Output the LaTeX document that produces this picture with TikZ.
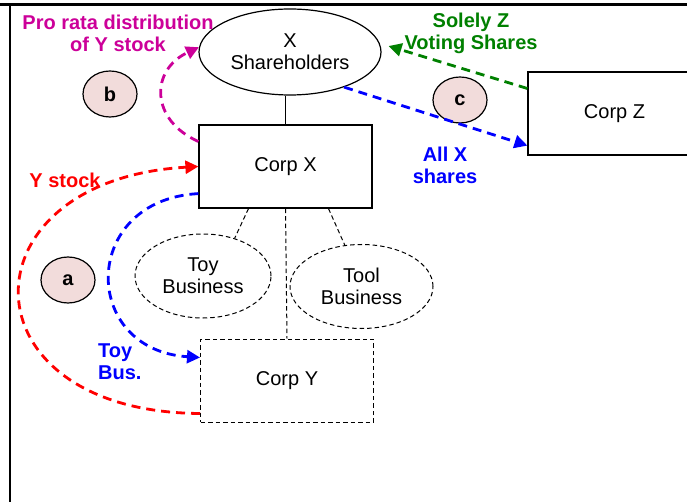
\documentclass[tikz,border=0pt]{standalone}
\usepackage{fontspec}
\setmainfont{Liberation Sans}
\usepackage{xcolor}
\usetikzlibrary{arrows.meta,shapes.geometric}

\definecolor{prorata}{RGB}{204,0,153}
\definecolor{solely}{RGB}{0,128,0}
\definecolor{markfill}{RGB}{242,220,219}

\tikzset{
  corp/.style={draw, line width=1.2pt, minimum width=173pt, minimum height=83pt, inner sep=0pt},
  thin dash/.style={dash pattern=on 4.5pt off 3pt, line width=1pt},
  biz/.style={ellipse, draw, thin dash, minimum width=136pt, minimum height=84pt, inner sep=0pt, align=center},
  letter/.style={ellipse, draw, line width=1.2pt, fill=markfill, minimum width=54pt, minimum height=46pt, inner sep=0pt, font=\fontsize{20}{22}\selectfont\bfseries},
  move/.style={line width=2.8pt, dash pattern=on 9pt off 6pt, -{Triangle[length=13pt,width=13pt]}},
  lbl/.style={font=\fontsize{20}{22}\selectfont\bfseries, align=center, inner sep=0pt}
}

\begin{document}
\begin{tikzpicture}[x=1pt, y=-1pt, every node/.style={font=\fontsize{20}{22}\selectfont}]
\clip (0,0) rectangle (687,502);
% рамка
\draw [line width=3pt] (0,5) -- (687,5);
\draw [line width=2.5pt] (10,5) -- (10,502);
% узлы
\node [ellipse, draw, line width=1.2pt, minimum width=182pt, minimum height=86pt, inner sep=0pt, align=center] (xsh) at (290,52) {X\\Shareholders};
\node [corp] (corpx) at (285.5,166.5) {Corp X};
\node [corp] (corpz) at (614.5,113.5) {Corp Z};
\node [corp, thin dash] (corpy) at (287,380.5) {Corp Y};
\node [biz] (toy) at (203,276) {Toy\\Business};
\node [biz, minimum width=143pt] (tool) at (361.5,286.5) {Tool\\Business};
\node [letter] (a) at (68,280) {a};
\node [letter] (b) at (110,94) {b};
\node [letter] (c) at (460,100) {c};
% связи
\draw [line width=1.2pt] (corpx.north) -- (corpx.north |- xsh.south);
\draw [thin dash] ([xshift=-37pt]corpx.south) -- (toy.50);
\draw [thin dash] (corpx.south) -- (corpy.north);
\draw [thin dash] ([xshift=43pt]corpx.south) -- (tool.112);
% стрелки
\draw [move, prorata] ([yshift=25pt]corpx.west) .. controls (150,120) and (150,70) .. (xsh.177);
\draw [move, red] ([yshift=9pt]corpy.south west) .. controls (-40,412) and (-40,180) .. (corpx.west);
\draw [move, blue] ([yshift=15pt]corpx.south west) .. controls (80,200) and (80,350) .. ([yshift=23pt]corpy.west);
\draw [move, blue] (xsh.-33) -- ([yshift=10pt]corpz.south west);
\draw [move, solely] ([yshift=25pt]corpz.west) -- ([shift={(7pt,6pt)}]xsh.east);
% подписи
\node [lbl, prorata] (prolbl) at (118,33) {Pro rata distribution\\of Y stock};
\node [lbl, red] (ylbl) at (65,180) {Y stock};
\node [lbl, blue, align=left, anchor=west] (toylbl) at (98,362) {Toy\\Bus.};
\node [lbl, blue] (alllbl) at (445,165) {All X\\shares};
\node [lbl, solely] (sollbl) at (471,33) {Solely Z\\Voting Shares};
\end{tikzpicture}
\end{document}
